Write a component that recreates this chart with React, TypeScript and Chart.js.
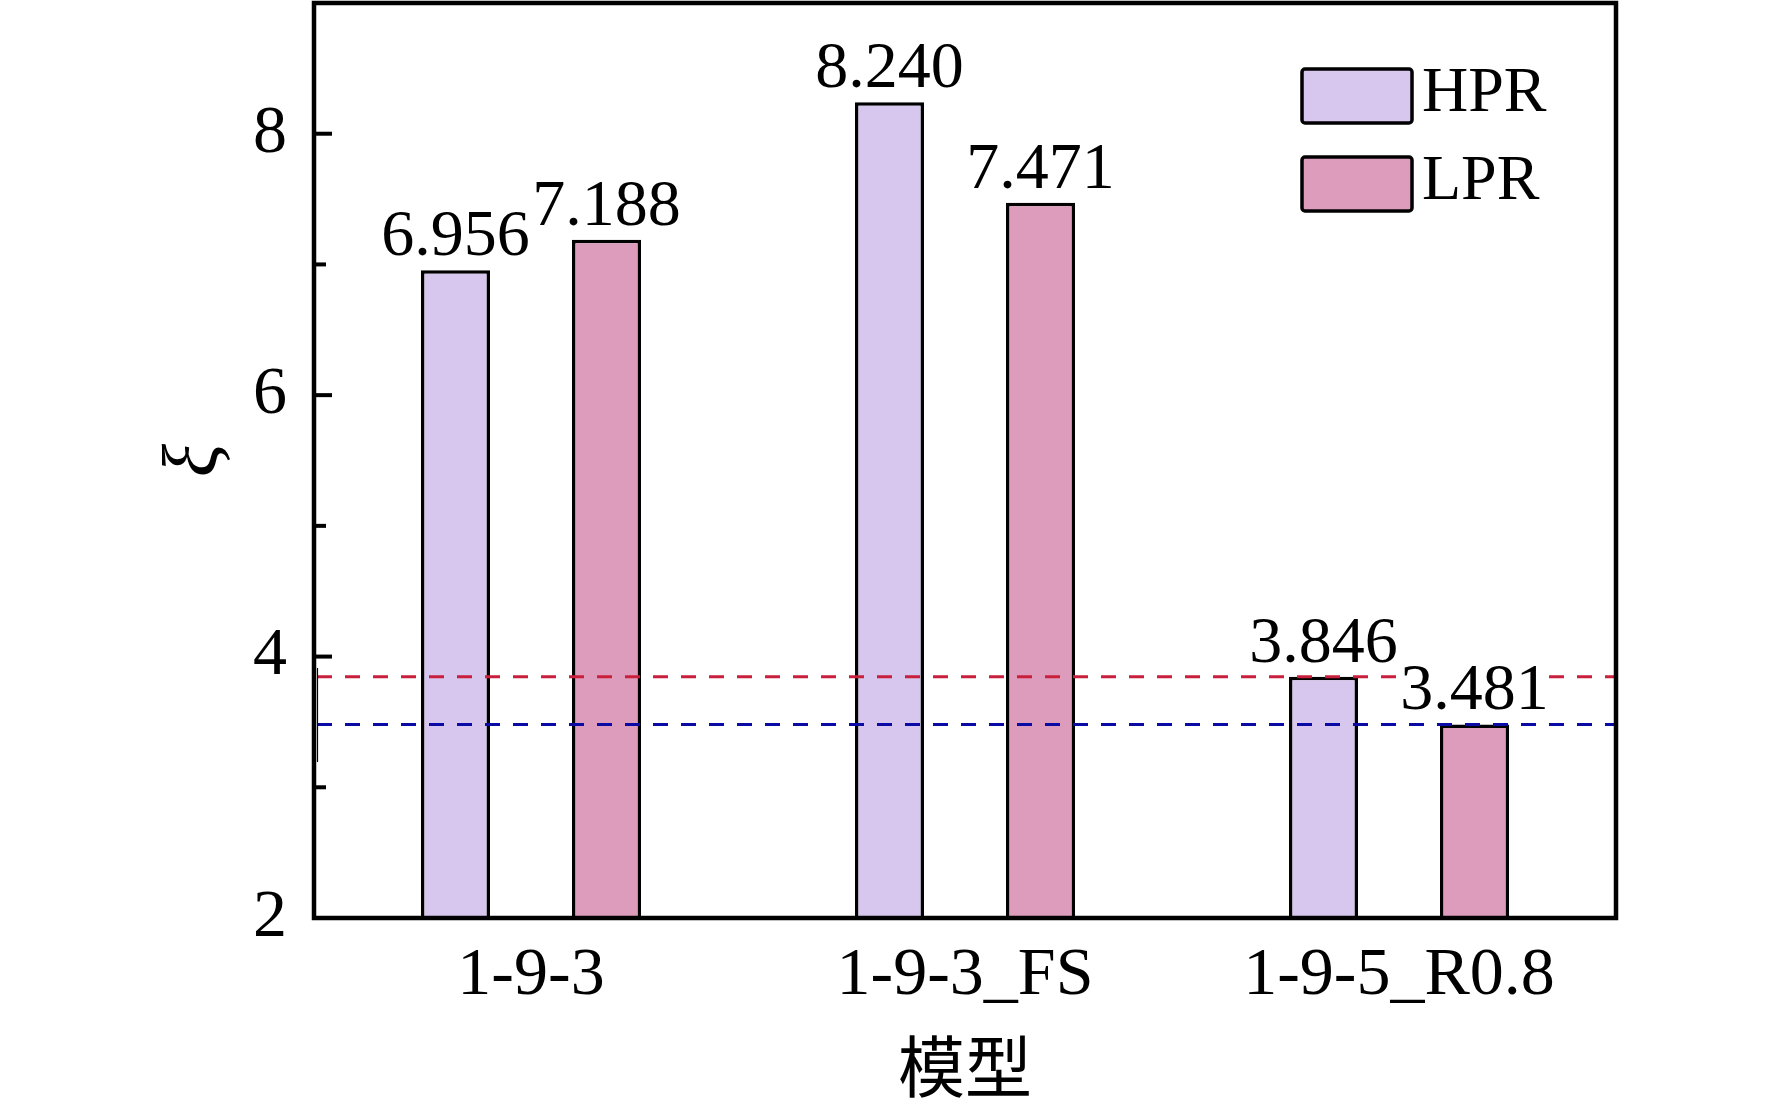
import React, { useEffect, useRef } from "react";
import { Chart, registerables } from "chart.js";

Chart.register(...registerables);

// ---- data ----
const categories = ["1-9-3", "1-9-3_FS", "1-9-5_R0.8"];
const seriesNames = ["HPR", "LPR"];
const hprValues = [6.956, 8.24, 3.846];
const lprValues = [7.188, 7.471, 3.481];
const refLineValues = [3.846, 3.481];
const markerSegmentY = [3.913, 3.193];
const yMin = 2;
const yMax = 9;

const SERIF = '"Liberation Serif", "Times New Roman", serif';
const HPR_FILL = "#D7C7EE";
const LPR_FILL = "#DE9CBC";
const REF_COLORS = ["#C8203C", "#0A0AA5"];

const overlayPlugin = {
  id: "overlay",
  afterDatasetsDraw(chart: any) {
    const ctx = chart.ctx;
    const area = chart.chartArea;
    const yScale = chart.scales.y;
    ctx.save();
    // reference dashed lines
    ctx.lineWidth = 3;
    ctx.setLineDash([15, 13]);
    refLineValues.forEach((v, i) => {
      const py = yScale.getPixelForValue(v);
      ctx.strokeStyle = REF_COLORS[i];
      ctx.beginPath();
      ctx.moveTo(area.left + 3, py);
      ctx.lineTo(area.right, py);
      ctx.stroke();
    });
    ctx.setLineDash([]);
    // thin marker segment near the left axis
    ctx.lineWidth = 1.2;
    ctx.strokeStyle = "#000";
    ctx.beginPath();
    ctx.moveTo(area.left + 3.5, yScale.getPixelForValue(markerSegmentY[0]));
    ctx.lineTo(area.left + 3.5, yScale.getPixelForValue(markerSegmentY[1]));
    ctx.stroke();
    // value labels
    ctx.font = `66px ${SERIF}`;
    ctx.textAlign = "center";
    ctx.textBaseline = "alphabetic";
    [0, 1].forEach((di) => {
      const meta = chart.getDatasetMeta(di);
      const values = chart.data.datasets[di].data as number[];
      meta.data.forEach((bar: any, i: number) => {
        const txt = values[i].toFixed(3);
        const w = ctx.measureText(txt).width;
        const base = bar.y - 15;
        ctx.fillStyle = "#ffffff";
        ctx.fillRect(bar.x - w / 2, base - 48, w, 50);
        ctx.fillStyle = "#000000";
        ctx.fillText(txt, bar.x, base);
      });
    });
    ctx.restore();
  },
  afterDraw(chart: any) {
    const ctx = chart.ctx;
    const area = chart.chartArea;
    const yScale = chart.scales.y;
    ctx.save();
    // inside ticks
    ctx.strokeStyle = "#000";
    ctx.lineWidth = 4;
    yScale.ticks.forEach((t: any) => {
      const v = t.value;
      if (v <= yMin || v >= yMax) return;
      const py = yScale.getPixelForValue(v);
      const len = v % 2 === 0 ? 18 : 12;
      ctx.beginPath();
      ctx.moveTo(area.left, py);
      ctx.lineTo(area.left + len, py);
      ctx.stroke();
    });
    // frame
    ctx.lineWidth = 4.5;
    ctx.strokeRect(area.left, area.top, area.right - area.left, area.bottom - area.top);
    // legend
    const fills = [HPR_FILL, LPR_FILL];
    const boxLeft = area.right - 314;
    const boxW = 110;
    const boxH = 54;
    ctx.font = `64px ${SERIF}`;
    ctx.textAlign = "left";
    ctx.textBaseline = "middle";
    seriesNames.forEach((name, i) => {
      const top = area.top + 66 + i * 88;
      ctx.fillStyle = fills[i];
      ctx.beginPath();
      ctx.roundRect(boxLeft, top, boxW, boxH, 3);
      ctx.fill();
      ctx.lineWidth = 3.5;
      ctx.strokeStyle = "#000";
      ctx.stroke();
      ctx.fillStyle = "#000";
      ctx.fillText(name, boxLeft + boxW + 10, top + boxH / 2 - 2);
    });
    ctx.restore();
  },
};

export default function App() {
  const ref = useRef<HTMLCanvasElement | null>(null);
  useEffect(() => {
    if (!ref.current) return;
    const chart = new Chart(ref.current, {
      type: "bar",
      data: {
        labels: categories,
        datasets: [
          {
            label: seriesNames[0],
            data: hprValues,
            backgroundColor: HPR_FILL,
            borderColor: "#000",
            borderWidth: 3.5,
            borderSkipped: false,
            categoryPercentage: 0.696,
            barPercentage: 0.457,
          },
          {
            label: seriesNames[1],
            data: lprValues,
            backgroundColor: LPR_FILL,
            borderColor: "#000",
            borderWidth: 3.5,
            borderSkipped: false,
            categoryPercentage: 0.696,
            barPercentage: 0.457,
          },
        ],
      },
      options: {
        animation: false,
        responsive: false,
        maintainAspectRatio: false,
        layout: { padding: { left: 0, right: 156, top: 3, bottom: 0 } },
        plugins: {
          legend: { display: false },
          tooltip: { enabled: false },
          title: { display: false },
        },
        scales: {
          x: {
            type: "category",
            offset: true,
            grid: { display: false, drawTicks: false },
            border: { display: false },
            ticks: {
              color: "#000",
              padding: 17,
              font: { family: SERIF, size: 68 },
            },
            title: {
              display: true,
              text: "模型",
              color: "#000",
              font: { family: '"Noto Sans CJK SC", sans-serif', size: 67 },
              padding: { top: 5, bottom: 5 },
            },
            afterFit: (scale: any) => {
              scale.height = 194;
              scale.paddingLeft = 0;
              scale.paddingRight = 0;
            },
          },
          y: {
            type: "linear",
            min: yMin,
            max: yMax,
            grid: { display: false, drawTicks: false },
            border: { display: false },
            ticks: {
              stepSize: 1,
              autoSkip: false,
              color: "#000",
              padding: 27,
              font: { family: SERIF, size: 68 },
              callback: (v: any) => (Number(v) % 2 === 0 ? String(v) : ""),
            },
            title: {
              display: true,
              text: "ξ",
              color: "#000",
              font: { family: SERIF, size: 78, style: "italic" },
              padding: { top: 150, bottom: 150 },
            },
            afterFit: (scale: any) => {
              scale.width = 314;
              scale.paddingTop = 0;
              scale.paddingBottom = 0;
            },
          },
        },
      } as any,
      plugins: [overlayPlugin],
    });
    return () => chart.destroy();
  }, []);
  return (
    <div style={{ position: "absolute", left: 0, top: 0, width: 1772, height: 1112, background: "#fff" }}>
      <canvas ref={ref} width={1772} height={1112} style={{ width: 1772, height: 1112, display: "block" }} />
    </div>
  );
}
